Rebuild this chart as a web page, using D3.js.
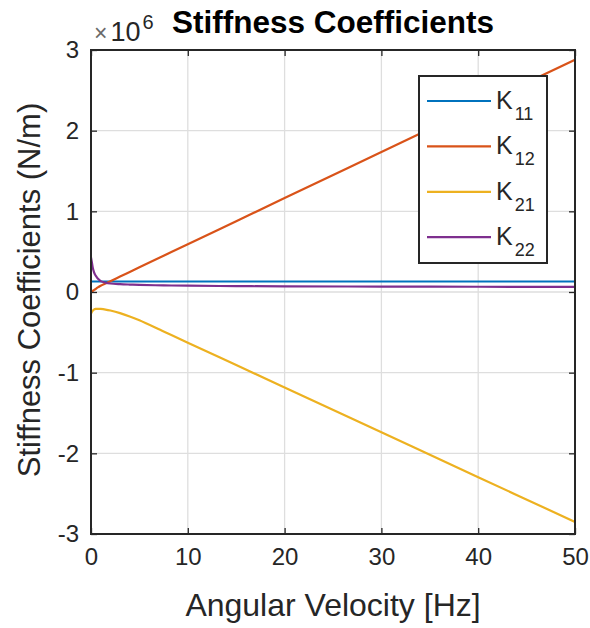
<!DOCTYPE html>
<html>
<head>
<meta charset="utf-8">
<script src="https://cdn.jsdelivr.net/npm/d3@7"></script>
<style>
  html, body { margin: 0; padding: 0; background: #fff; }
  svg text { font-family: "Liberation Sans", Arial, Helvetica, sans-serif; }
</style>
</head>
<body>
<svg id="chart" width="590" height="628"></svg>
<script>
// ---- data (values in units of 1e6 N/m) ----
const omega = [0, 0.1, 0.2, 0.3, 0.4, 0.5, 0.75, 1, 1.5, 2, 3, 4, 5, 7.5, 10, 15, 20, 30, 40, 50];
const k11 = [0.13, 0.13, 0.13, 0.13, 0.13, 0.13, 0.13, 0.13, 0.13, 0.13, 0.13, 0.13, 0.13, 0.13, 0.13, 0.13, 0.13, 0.13, 0.13, 0.13];
const k12 = [0.0, 0.007, 0.015, 0.023, 0.031, 0.04, 0.06, 0.078, 0.106, 0.134, 0.192, 0.249, 0.306, 0.449, 0.592, 0.878, 1.164, 1.736, 2.308, 2.88];
const k21 = [-0.27, -0.245, -0.228, -0.218, -0.212, -0.21, -0.208, -0.21, -0.218, -0.23, -0.262, -0.303, -0.35, -0.489, -0.628, -0.906, -1.184, -1.74, -2.296, -2.85];
const k22 = [0.43, 0.36, 0.29, 0.25, 0.22, 0.2, 0.16, 0.135, 0.115, 0.105, 0.097, 0.092, 0.088, 0.082, 0.078, 0.073, 0.07, 0.067, 0.065, 0.064];
const seriesNames = ["11", "12", "21", "22"];
const seriesColors = ["#0072BD", "#D95319", "#EDB120", "#7E2F8E"];
const xTicks = [0, 10, 20, 30, 40, 50];
const yTicks = [-3, -2, -1, 0, 1, 2, 3];
const yTickLabels = ["-3", "-2", "-1", "0", "1", "2", "3"];
const titleText = "Stiffness Coefficients";
const xLabelText = "Angular Velocity [Hz]";
const yLabelText = "Stiffness Coefficients (N/m)";

const series = [k11, k12, k21, k22];

// ---- layout ----
const svg = d3.select("#chart");
const L = 91, T = 50, R = 575, B = 534;
const axisColor = "#262626";
const x = d3.scaleLinear().domain([0, 50]).range([L, R]);
const y = d3.scaleLinear().domain([-3, 3]).range([B, T]);

svg.append("rect").attr("x", L).attr("y", T).attr("width", R - L).attr("height", B - T).attr("fill", "#fff");

// grid
const grid = svg.append("g");
grid.selectAll("line.gx").data(xTicks).join("line")
  .attr("x1", d => x(d)).attr("x2", d => x(d)).attr("y1", T).attr("y2", B)
  .attr("stroke", "#dedede").attr("stroke-width", 1.3);
grid.selectAll("line.gy").data(yTicks).join("line")
  .attr("y1", d => y(d)).attr("y2", d => y(d)).attr("x1", L).attr("x2", R)
  .attr("stroke", "#dedede").attr("stroke-width", 1.3);

// lines
svg.append("clipPath").attr("id", "clip").append("rect")
  .attr("x", L).attr("y", T).attr("width", R - L).attr("height", B - T);
const line = d3.line().x((d, i) => x(omega[i])).y(d => y(d)).curve(d3.curveCatmullRom.alpha(0.5));
svg.append("g").attr("clip-path", "url(#clip)")
  .selectAll("path").data(series).join("path")
  .attr("d", d => line(d))
  .attr("fill", "none")
  .attr("stroke", (d, i) => seriesColors[i])
  .attr("stroke-width", 2.2);

// axes (ticks inward, box on all sides)
const tickLen = 6;
const axB = svg.append("g").attr("transform", `translate(0,${B})`)
  .call(d3.axisBottom(x).tickValues(xTicks).tickSize(-tickLen).tickPadding(14).tickSizeOuter(0));
const axT = svg.append("g").attr("transform", `translate(0,${T})`)
  .call(d3.axisTop(x).tickValues(xTicks).tickSize(-tickLen).tickFormat("").tickSizeOuter(0));
const axL = svg.append("g").attr("transform", `translate(${L},0)`)
  .call(d3.axisLeft(y).tickValues(yTicks).tickSize(-tickLen).tickPadding(12)
    .tickFormat((d, i) => yTickLabels[i]).tickSizeOuter(0));
const axR = svg.append("g").attr("transform", `translate(${R},0)`)
  .call(d3.axisRight(y).tickValues(yTicks).tickSize(-tickLen).tickFormat("").tickSizeOuter(0));
[axB, axT, axL, axR].forEach(a => {
  a.select(".domain").remove();
  a.selectAll(".tick line").attr("stroke", axisColor).attr("stroke-width", 1.3);
  a.selectAll(".tick text").attr("fill", axisColor).attr("font-size", 24);
});
svg.append("rect").attr("x", L).attr("y", T).attr("width", R - L).attr("height", B - T)
  .attr("fill", "none").attr("stroke", axisColor).attr("stroke-width", 2);

// exponent
const ex = svg.append("text").attr("x", 94).attr("y", 41).attr("fill", axisColor).attr("font-size", 27);
ex.append("tspan").text("\u00d7").attr("fill", "#6a6a6a").attr("font-size", 23);
ex.append("tspan").text("10").attr("dx", 3);
ex.append("tspan").text("6").attr("font-size", 20).attr("dy", -12).attr("dx", 2);

// title
svg.append("text").attr("x", (L + R) / 2).attr("y", 33).attr("text-anchor", "middle")
  .attr("font-weight", "bold").attr("font-size", 31.5).attr("fill", "#000").text(titleText);

// axis labels
svg.append("text").attr("x", (L + R) / 2).attr("y", 616).attr("text-anchor", "middle")
  .attr("font-size", 32).attr("fill", axisColor).text(xLabelText);
svg.append("text").attr("transform", `translate(40,${(T + B) / 2 - 2}) rotate(-90)`)
  .attr("text-anchor", "middle").attr("font-size", 31).attr("fill", axisColor).text(yLabelText);

// legend
const lg = svg.append("g");
const lgX = 419, lgY = 76, lgW = 128, lgH = 187;
lg.append("rect").attr("x", lgX).attr("y", lgY).attr("width", lgW).attr("height", lgH)
  .attr("fill", "#fff").attr("stroke", axisColor).attr("stroke-width", 2);
const rowY = i => 101 + i * 45.4;
seriesNames.forEach((nm, i) => {
  lg.append("line").attr("x1", 427).attr("x2", 491).attr("y1", rowY(i)).attr("y2", rowY(i))
    .attr("stroke", seriesColors[i]).attr("stroke-width", 2.2);
  const t = lg.append("text").attr("x", 496).attr("y", rowY(i) + 8).attr("fill", axisColor).attr("font-size", 25);
  t.append("tspan").text("K");
  t.append("tspan").text(nm).attr("font-size", 18).attr("dy", 11).attr("dx", 2);
});
</script>
</body>
</html>
